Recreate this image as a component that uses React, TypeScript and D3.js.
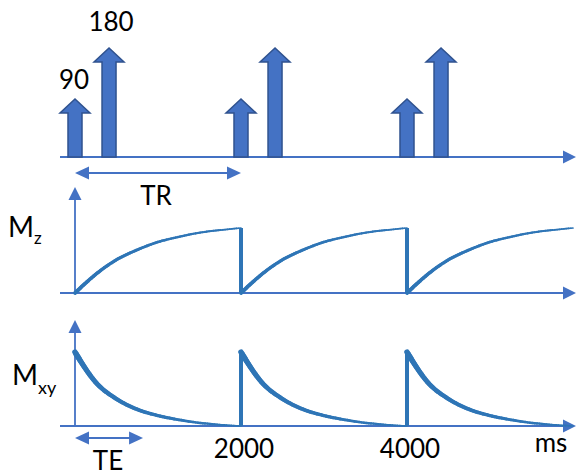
import React, { useRef, useEffect } from 'react';
import * as d3 from 'd3';

// RF pulses: time (ms) and flip angle (deg)
const pulseTimes = [0, 410, 2000, 2410, 4000, 4410];
const pulseAngles = [90, 180, 90, 180, 90, 180];
const pulseLabels = ['90', '180'];

// one TR cycle, repeated at each 90 pulse
const cycleStarts = [0, 2000, 4000];
const cycleTimes = [0, 250, 500, 750, 1000, 1250, 1500, 1750, 2000];
const mzValues = [0, 0.18, 0.32, 0.415, 0.49, 0.54, 0.58, 0.605, 0.625];
const mxyValues = [0.71, 0.42, 0.26, 0.16, 0.1, 0.06, 0.03, 0.012, 0];

const tickValues = [2000, 4000];
const TR = 2000;
const TE = 820;

const AXIS = '#4472C4';
const CURVE = '#2E75B6';
const PULSE_FILL = '#4472C4';
const PULSE_STROKE = '#2F528F';
const FONT = 'Lato, "Open Sans", sans-serif';

const App = () => {
  const ref = useRef<SVGSVGElement>(null);

  useEffect(() => {
    const svg = d3.select(ref.current);
    svg.selectAll('*').remove();

    const x = d3.scaleLinear().domain([0, 6000]).range([75, 573]);
    const yPulse = d3.scaleLinear().domain([0, 90, 180]).range([157, 99, 48]);
    const yMz = d3.scaleLinear().domain([0, 1]).range([293, 189]);
    const yMxy = d3.scaleLinear().domain([0, 1]).range([426, 322]);

    const arrowHead = (tipX, tipY, dir, len = 13, half = 6.5) => {
      // dir: 'right' | 'left' | 'up'
      let pts;
      if (dir === 'right') pts = [[tipX, tipY], [tipX - len, tipY - half], [tipX - len, tipY + half]];
      else if (dir === 'left') pts = [[tipX, tipY], [tipX + len, tipY - half], [tipX + len, tipY + half]];
      else pts = [[tipX, tipY], [tipX - half, tipY + len], [tipX + half, tipY + len]];
      svg.append('polygon').attr('points', pts.map((p) => p.join(',')).join(' ')).attr('fill', AXIS);
    };

    // horizontal axes
    [yPulse(0), yMz(0), yMxy(0)].forEach((yy) => {
      svg.append('line').attr('x1', 60).attr('x2', 566).attr('y1', yy).attr('y2', yy)
        .attr('stroke', AXIS).attr('stroke-width', 1.8);
      arrowHead(576, yy, 'right');
    });

    // vertical axes for Mz and Mxy
    [[yMz, 187], [yMxy, 320]].forEach(([sc, top]: any) => {
      svg.append('line').attr('x1', x(0)).attr('x2', x(0)).attr('y1', sc(0)).attr('y2', top + 8)
        .attr('stroke', AXIS).attr('stroke-width', 1.8);
      arrowHead(x(0), top, 'up');
    });

    // pulses
    pulseTimes.forEach((t, i) => {
      const cx = x(t);
      const base = yPulse(0);
      const tip = yPulse(pulseAngles[i]);
      const sw = 7, hw = 15, hh = 14;
      const pts = [
        [cx - sw, base], [cx - sw, tip + hh], [cx - hw, tip + hh], [cx, tip],
        [cx + hw, tip + hh], [cx + sw, tip + hh], [cx + sw, base],
      ];
      svg.append('polygon').attr('points', pts.map((p) => p.join(',')).join(' '))
        .attr('fill', PULSE_FILL).attr('stroke', PULSE_STROKE).attr('stroke-width', 1.5);
    });

    // pulse labels
    svg.append('text').attr('x', x(pulseTimes[0]) - 1).attr('y', 89).attr('text-anchor', 'middle')
      .attr('font-size', 26).attr('font-family', FONT).text(pulseLabels[0]);
    svg.append('text').attr('x', x(pulseTimes[1]) + 2).attr('y', 31).attr('text-anchor', 'middle')
      .attr('font-size', 26).attr('font-family', FONT).text(pulseLabels[1]);

    // double-headed interval arrows
    const interval = (t0, t1, yy) => {
      svg.append('line').attr('x1', x(t0) + 10).attr('x2', x(t1) - 10).attr('y1', yy).attr('y2', yy)
        .attr('stroke', AXIS).attr('stroke-width', 2);
      arrowHead(x(t0), yy, 'left', 14, 6.5);
      arrowHead(x(t1), yy, 'right', 14, 6.5);
    };
    interval(0, TR, 173);
    svg.append('text').attr('x', x(TR / 2) - 2).attr('y', 205).attr('text-anchor', 'middle')
      .attr('font-size', 26).attr('font-family', FONT).text('TR');
    interval(0, TE, 438);
    svg.append('text').attr('x', x(TE / 2) - 1).attr('y', 470).attr('text-anchor', 'middle')
      .attr('font-size', 26).attr('font-family', FONT).text('TE');

    // tapered curve helper
    const tapered = (pts, w0, w1) => {
      const line = d3.line().curve(d3.curveMonotoneX);
      const tmp = svg.append('path').attr('d', line(pts)).attr('fill', 'none');
      const node = tmp.node() as SVGPathElement;
      const len = node.getTotalLength();
      const n = 80;
      const samples = d3.range(n + 1).map((k) => node.getPointAtLength((len * k) / n));
      tmp.remove();
      for (let k = 0; k < n; k++) {
        const w = w0 + (w1 - w0) * (k / n);
        svg.append('line')
          .attr('x1', samples[k].x).attr('y1', samples[k].y)
          .attr('x2', samples[k + 1].x).attr('y2', samples[k + 1].y)
          .attr('stroke', CURVE).attr('stroke-width', w).attr('stroke-linecap', 'round');
      }
    };

    cycleStarts.forEach((s, ci) => {
      const mzPts = cycleTimes.map((t, i) => [x(s + t), yMz(mzValues[i])]);
      tapered(mzPts, 3.8, 1.6);
      const mxyPts = cycleTimes.map((t, i) => [x(s + t), yMxy(mxyValues[i])]);
      tapered(mxyPts, 5.5, 1.5);
      if (ci > 0) {
        svg.append('line').attr('x1', x(s)).attr('x2', x(s))
          .attr('y1', yMz(0)).attr('y2', yMz(mzValues[mzValues.length - 1]))
          .attr('stroke', CURVE).attr('stroke-width', 4);
        svg.append('line').attr('x1', x(s)).attr('x2', x(s))
          .attr('y1', yMxy(0)).attr('y2', yMxy(mxyValues[0]))
          .attr('stroke', CURVE).attr('stroke-width', 4);
      }
    });

    // axis labels
    const mz = svg.append('text').attr('x', 8).attr('y', 237).attr('font-family', FONT).attr('font-size', 28);
    mz.append('tspan').text('M');
    mz.append('tspan').attr('font-size', 17).attr('dy', 7).text('z');
    const mxy = svg.append('text').attr('x', 12).attr('y', 385).attr('font-family', FONT).attr('font-size', 28);
    mxy.append('tspan').text('M');
    mxy.append('tspan').attr('font-size', 18).attr('dy', 9).text('xy');

    tickValues.forEach((v) => {
      svg.append('text').attr('x', x(v) + 3).attr('y', 458).attr('text-anchor', 'middle')
        .attr('font-size', 26).attr('font-family', FONT).text(String(v));
    });
    svg.append('text').attr('x', 551).attr('y', 452).attr('text-anchor', 'middle')
      .attr('font-size', 26).attr('font-family', FONT).text('ms');
  }, []);

  return (
    <svg ref={ref} width="576" height="476" style={{ position: 'absolute', left: 0, top: 0, background: '#fff' }}></svg>
  );
};

export default App;
